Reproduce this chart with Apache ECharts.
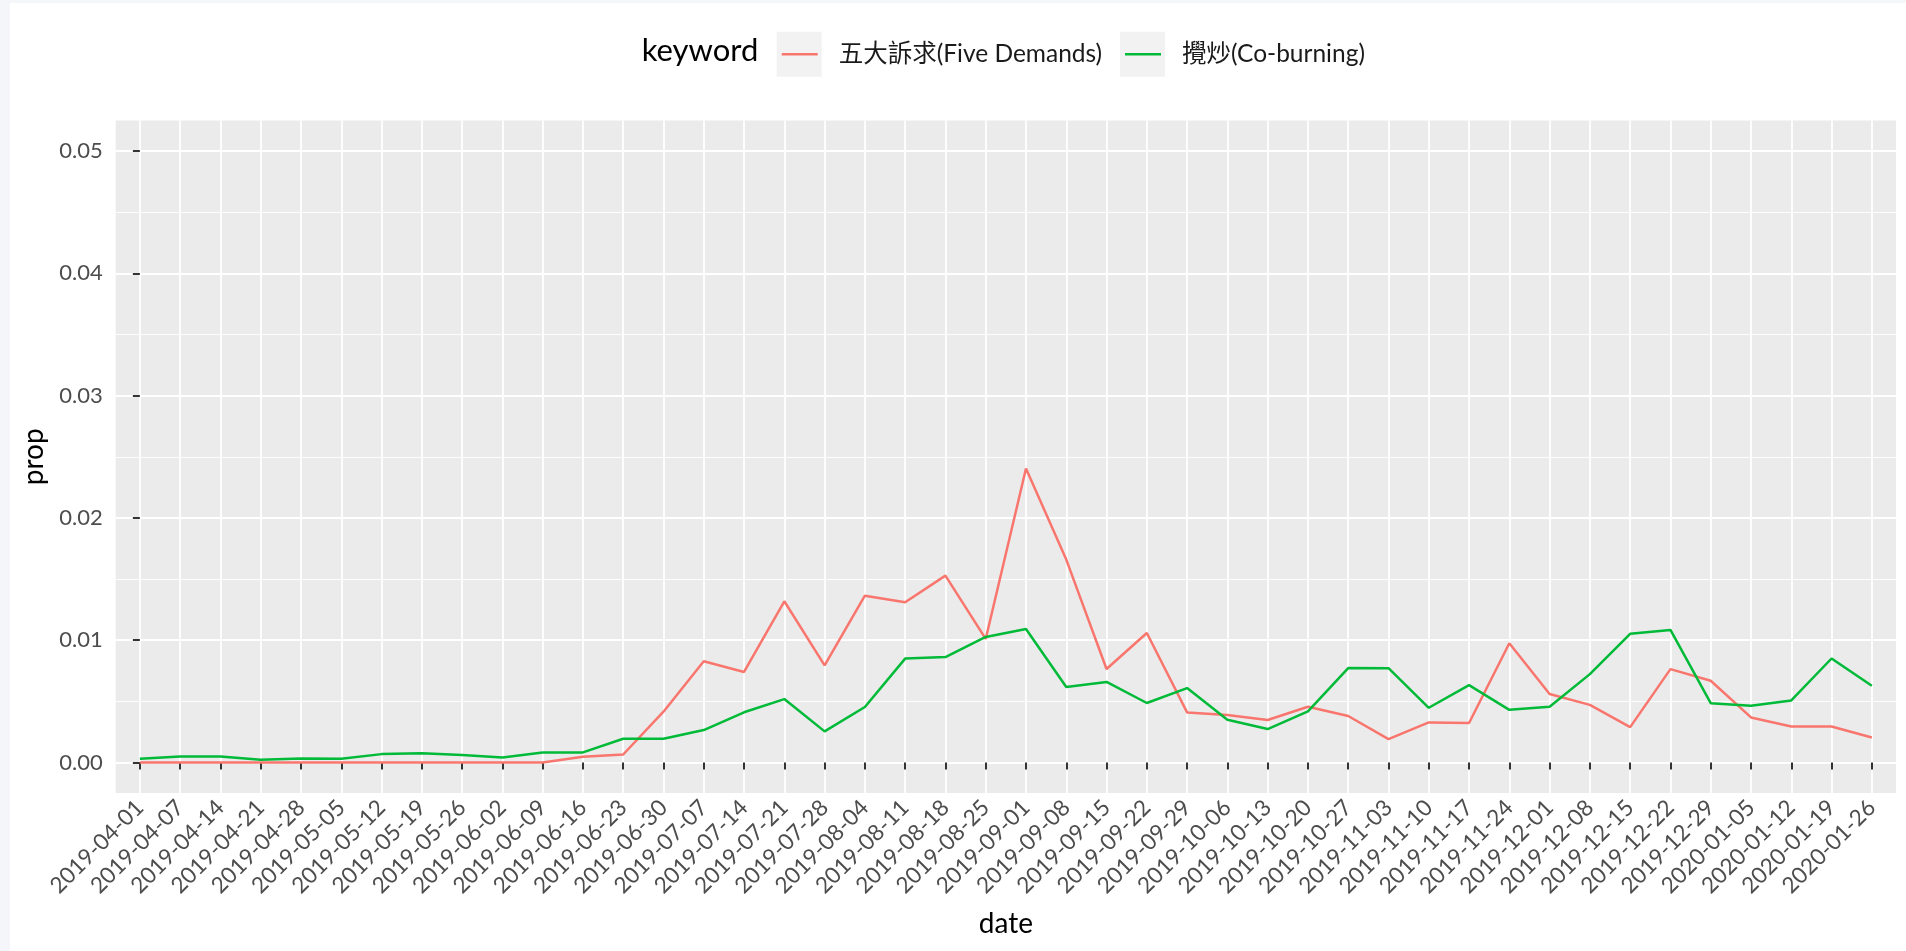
<!DOCTYPE html>
<html>
<head>
<meta charset="utf-8">
<script src="https://cdn.jsdelivr.net/npm/echarts@6/dist/echarts.min.js"></script>
<style>
  html, body { margin: 0; padding: 0; background: #f5f6f9; width: 1906px; height: 951px; overflow: hidden; }
  #chart { position: absolute; left: 10px; top: 3px; width: 1896px; height: 948px; background: #ffffff; }
</style>
</head>
<body>
<div id="chart"></div>
<script>
// ---- data ----
const dates = [
  '2019-04-01','2019-04-07','2019-04-14','2019-04-21','2019-04-28','2019-05-05','2019-05-12','2019-05-19','2019-05-26',
  '2019-06-02','2019-06-09','2019-06-16','2019-06-23','2019-06-30','2019-07-07','2019-07-14','2019-07-21','2019-07-28',
  '2019-08-04','2019-08-11','2019-08-18','2019-08-25','2019-09-01','2019-09-08','2019-09-15','2019-09-22','2019-09-29',
  '2019-10-06','2019-10-13','2019-10-20','2019-10-27','2019-11-03','2019-11-10','2019-11-17','2019-11-24',
  '2019-12-01','2019-12-08','2019-12-15','2019-12-22','2019-12-29','2020-01-05','2020-01-12','2020-01-19','2020-01-26'
];
const seriesNames = ['五大訴求(Five Demands)', '攪炒(Co-burning)'];
const fiveDemands = [
  0,0,0,0,0,0,0,0,0,0,0,
  0.00046,0.00065,0.00415,0.00827,0.0074,0.01318,0.00794,0.01364,0.0131,0.01528,0.0101,
  0.02404,0.01659,0.00764,0.01059,0.00409,0.00387,0.00347,0.00455,0.0038,0.00191,0.00327,
  0.00322,0.00975,0.00559,0.00471,0.00289,0.00763,0.00668,0.00368,0.00294,0.00294,0.00204
];
const coBurning = [
  0.0003,0.00049,0.00049,0.00022,0.00033,0.0003,0.00068,0.00076,0.0006,0.00041,0.00082,
  0.00082,0.00194,0.00194,0.00265,0.0041,0.00518,0.00254,0.00453,0.00849,0.00862,0.01026,
  0.01091,0.00617,0.00658,0.00486,0.00608,0.00349,0.00273,0.00418,0.00772,0.00771,0.00447,
  0.00632,0.0043,0.00455,0.00722,0.01052,0.01084,0.00485,0.00463,0.00507,0.0085,0.00627
];
const yMajorTicks = [0, 0.01, 0.02, 0.03, 0.04, 0.05];
const yMinorTicks = [0.005, 0.015, 0.025, 0.035, 0.045];
const colors = ['#F8766D', '#00BA38'];

// ---- chart ----
const FONT = "Lato, 'Noto Sans CJK TC', sans-serif";
const chart = echarts.init(document.getElementById('chart'), null, { renderer: 'canvas' });
const xIdx = dates.map((d, i) => i);
const toPairs = arr => arr.map((v, i) => [i, v]);

const legendBox = { type: 'rect', shape: { width: 45, height: 45 }, style: { fill: '#f2f2f2' }, z: 0 };
const legendText = { fontFamily: FONT, fontSize: 24.5, color: '#1a1a1a', lineHeight: 30, padding: [0, 0, 0, 16] };

const option = {
  animation: false,
  backgroundColor: '#ffffff',
  textStyle: { fontFamily: FONT },
  grid: {
    left: 105.7, right: 10, top: 117.5, bottom: 158,
    show: true, backgroundColor: '#ebebeb', borderWidth: 0,
    outerBoundsMode: 'none', containLabel: false
  },
  graphic: [
    { type: 'text', left: 631.7, top: 33, style: { text: 'keyword', font: '31px ' + FONT, fill: '#000000' } },
    Object.assign({}, legendBox, { left: 766.7, top: 28.7 }),
    Object.assign({}, legendBox, { left: 1110, top: 28.7 })
  ],
  legend: [
    {
      data: [seriesNames[0]], left: 771.7, top: 36.3, padding: 0,
      icon: 'rect', itemWidth: 36, itemHeight: 2.5,
      textStyle: legendText
    },
    {
      data: [seriesNames[1]], left: 1115, top: 36.3, padding: 0,
      icon: 'rect', itemWidth: 36, itemHeight: 2.5,
      textStyle: legendText
    }
  ],
  xAxis: {
    type: 'value', min: -0.6, max: 43.6,
    name: 'date', nameLocation: 'middle', nameGap: 117,
    nameTextStyle: { fontFamily: FONT, fontSize: 28, color: '#000000' },
    axisLine: { show: false },
    axisTick: { show: true, length: 7, customValues: xIdx, lineStyle: { color: '#333333', width: 2 } },
    axisLabel: {
      customValues: xIdx, rotate: 45, margin: 11,
      fontFamily: FONT, fontSize: 22.5, color: '#4d4d4d',
      formatter: v => dates[Math.round(v)]
    },
    splitLine: { show: true, lineStyle: { color: '#ffffff', width: 1.8 } }
  },
  yAxis: [
    {
      type: 'value', min: -0.0025, max: 0.0525,
      name: 'prop', nameLocation: 'middle', nameGap: 61, nameRotate: 90,
      nameTextStyle: { fontFamily: FONT, fontSize: 28, color: '#000000' },
      axisLine: { show: false },
      axisTick: { show: true, length: 7, customValues: yMajorTicks, lineStyle: { color: '#333333', width: 2 } },
      axisLabel: {
        customValues: yMajorTicks, margin: 13,
        fontFamily: FONT, fontSize: 22, color: '#4d4d4d',
        formatter: v => v.toFixed(2)
      },
      splitLine: { show: true, lineStyle: { color: '#ffffff', width: 1.8 } }
    },
    {
      type: 'value', min: -0.0025, max: 0.0525, position: 'left',
      axisLine: { show: false },
      axisTick: { show: false, customValues: yMinorTicks },
      axisLabel: { show: false, customValues: yMinorTicks },
      splitLine: { show: true, lineStyle: { color: '#ffffff', width: 0.9 } }
    }
  ],
  series: [
    {
      name: seriesNames[0], type: 'line', data: toPairs(fiveDemands),
      showSymbol: false, symbol: 'none', color: colors[0],
      lineStyle: { color: colors[0], width: 2.5 }, z: 3
    },
    {
      name: seriesNames[1], type: 'line', data: toPairs(coBurning),
      showSymbol: false, symbol: 'none', color: colors[1],
      lineStyle: { color: colors[1], width: 2.5 }, z: 3
    }
  ]
};
chart.setOption(option);
</script>
</body>
</html>
